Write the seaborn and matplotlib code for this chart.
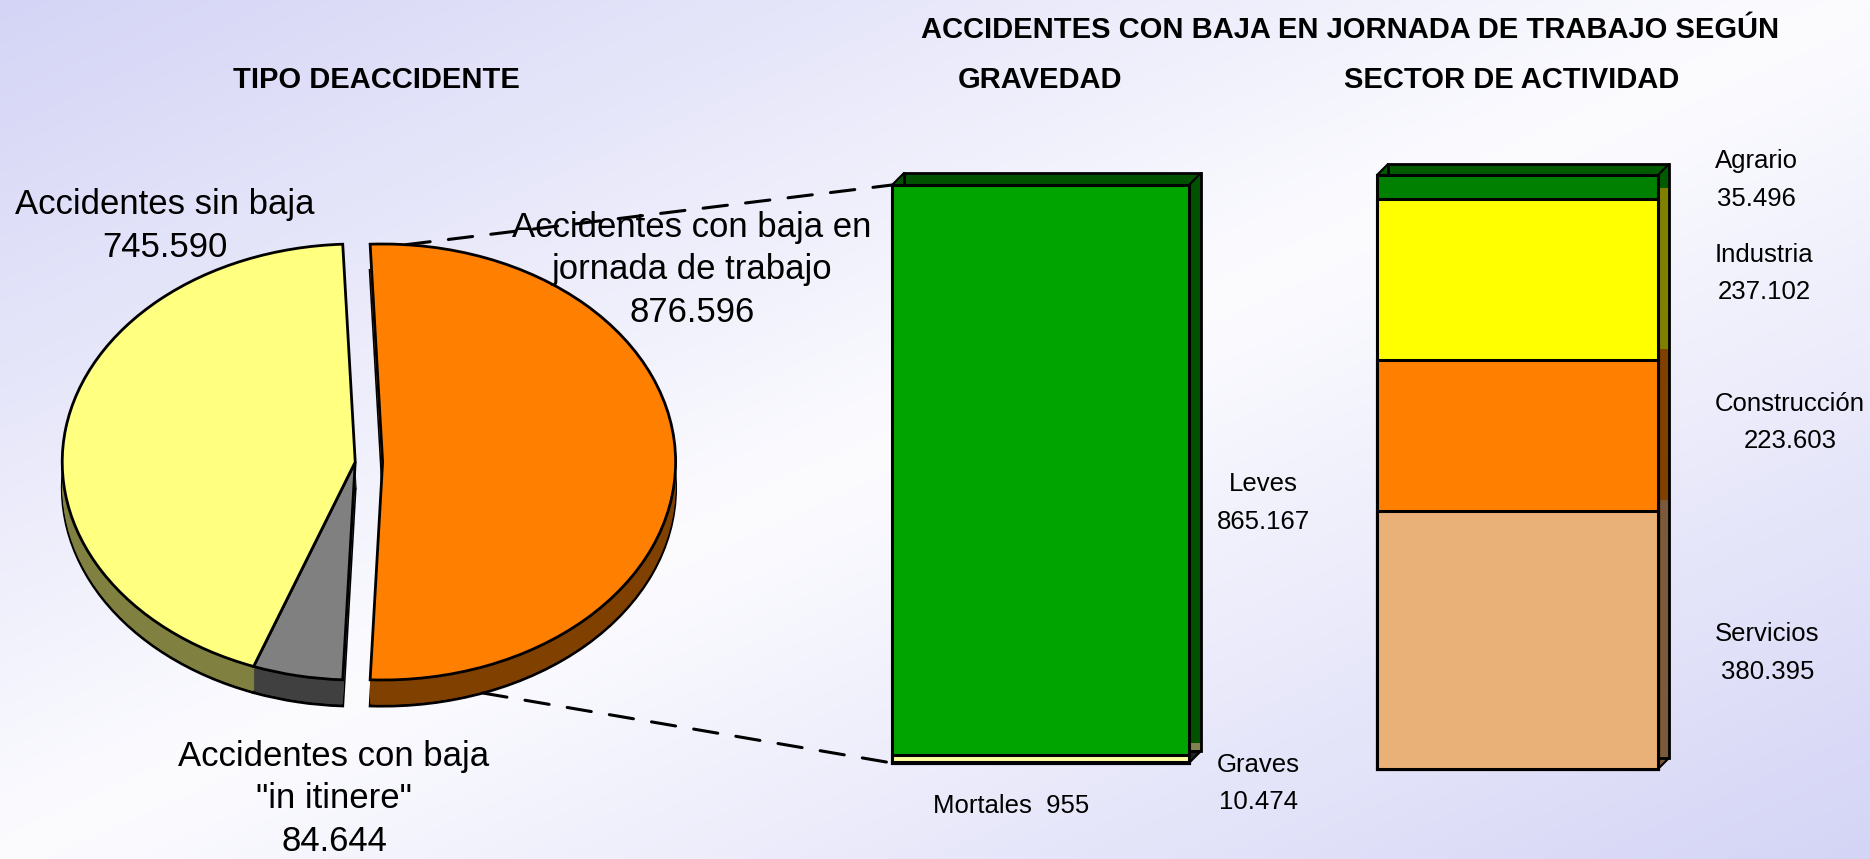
import numpy as np
import pandas as pd
import matplotlib
matplotlib.use("Agg")
import matplotlib.pyplot as plt
import seaborn as sns
from matplotlib.transforms import ScaledTranslation
from matplotlib.patches import Rectangle, ConnectionPatch

# ---------------- data ----------------
tipo_labels = ["Accidentes con baja en\njornada de trabajo",
               "Accidentes con baja\n\"in itinere\"",
               "Accidentes sin baja"]
tipo_values = [876596, 84644, 745590]

grav_labels = ["Mortales", "Graves", "Leves"]          # bottom -> top
grav_values = [955, 10474, 865167]

sector_labels = ["Servicios", "Construcción", "Industria", "Agrario"]  # bottom -> top
sector_values = [380395, 223603, 237102, 35496]

title_main = "ACCIDENTES CON BAJA EN JORNADA DE TRABAJO SEGÚN"
title_pie = "TIPO DEACCIDENTE"
title_grav = "GRAVEDAD"
title_sector = "SECTOR DE ACTIVIDAD"

# ---------------- style ----------------
tipo_colors = ["#FF8000", "#808080", "#FFFF80"]
tipo_sides = ["#804000", "#404040", "#808040"]
grav_colors = ["#303030", "#FFFFA0", "#00A400"]
grav_sides = ["#202020", "#808050", "#005200"]
sector_colors = ["#E9B077", "#FF8000", "#FFFF00", "#008000"]
sector_sides = ["#7A5A3A", "#804000", "#808000", "#005A00"]
sector_label_nudge_px = [13, -13, -6, -7]   # small vertical nudges of labels (bottom -> top)

sns.set_theme(style="white")
plt.rcParams["font.family"] = ["Liberation Sans", "DejaVu Sans"]

W, H = 1870, 859
fig = plt.figure(figsize=(W / 100, H / 100), dpi=100)


def fmt(v):
    return f"{v:,}".replace(",", ".")


def fx(x):
    return x / W


def fy(y):
    return 1 - y / H


# ---------------- background gradient ----------------
bg = fig.add_axes([0, 0, 1, 1], zorder=-10)
gx, gy = np.meshgrid(np.linspace(0, 1, 400), np.linspace(0, 1, 200))
s = np.abs((gx + gy) / 2 - 0.5) * 2
white = np.array([252, 252, 255]) / 255
lav = np.array([212, 212, 246]) / 255
img = white[None, None, :] * (1 - s[..., None]) + lav[None, None, :] * s[..., None]
bg.imshow(img, aspect="auto", extent=[0, 1, 0, 1], origin="upper")
bg.set_axis_off()

# ---------------- pie ----------------
cx, cy, rx, ry = 369, 462, 293, 218
xl = (-1.2, 1.2)
yl = (-1.3, 1.15)
left = cx + xl[0] * rx
right = cx + xl[1] * rx
top = cy - yl[1] * ry
bottom = cy - yl[0] * ry
axp = fig.add_axes([fx(left), fy(bottom), (right - left) / W, (bottom - top) / H])

start = 180 * tipo_values[0] / sum(tipo_values)   # first wedge centred on the right
c0 = -0.047
explode = [0.0935, 0, 0]
depth = 0.12
nlayers = 16
for i in range(nlayers, 0, -1):
    d = depth * i / nlayers
    wl, _ = axp.pie(tipo_values, colors=tipo_sides, startangle=start, counterclock=False,
                    explode=explode, center=(c0, -d),
                    wedgeprops=dict(linewidth=2 if i == nlayers else 0,
                                    edgecolor="black"))
top_wedges, _ = axp.pie(tipo_values, colors=tipo_colors, startangle=start, counterclock=False,
                        explode=explode, center=(c0, 0),
                        wedgeprops=dict(linewidth=2, edgecolor="black"))
axp.set_aspect("auto")
axp.set_xlim(*xl)
axp.set_ylim(*yl)
axp.set_axis_off()

# ---------------- stacked 3D bars ----------------
def stacked_bar(ax, values, colors, sides, off_px):
    cum = np.cumsum(values)
    fronts = []
    for i in range(len(values) - 1, -1, -1):
        df = pd.DataFrame({"cat": ["a"], "v": [cum[i]]})
        n_before = len(ax.patches)
        sns.barplot(data=df, x="cat", y="v", color=colors[i], width=1.0, saturation=1,
                    edgecolor="black", linewidth=2.2, errorbar=None, ax=ax)
        p = ax.patches[n_before]
        p.set_zorder(3)
        p.set_clip_on(False)
        fronts.append((p, sides[i]))
    # extrusion
    for p, side in fronts:
        x0, y0 = p.get_xy()
        w, h = p.get_width(), p.get_height()
        for k in range(1, off_px + 1):
            tr = ax.transData + ScaledTranslation(k / 100, k / 100, fig.dpi_scale_trans)
            r = Rectangle((x0, y0), w, h, transform=tr, facecolor=side,
                          edgecolor="none", zorder=1, clip_on=False)
            ax.add_artist(r)
    p, _ = fronts[0]
    x0, y0 = p.get_xy()
    w, h = p.get_width(), p.get_height()
    tr = ax.transData + ScaledTranslation(off_px / 100, off_px / 100, fig.dpi_scale_trans)
    ax.add_artist(Rectangle((x0, y0), w, h, transform=tr, facecolor="none",
                            edgecolor="black", linewidth=2, zorder=2, clip_on=False))
    for (px, py) in [(x0, y0 + h), (x0 + w, y0 + h), (x0 + w, y0)]:
        ax.annotate("", xy=(px, py), xytext=(off_px * 0.72, off_px * 0.72),
                    textcoords="offset points", annotation_clip=False,
                    arrowprops=dict(arrowstyle="-", color="black", lw=1.5,
                                    shrinkA=0, shrinkB=0), zorder=2)
    ax.set_xlim(-0.5, 0.5)
    ax.set_ylim(0, cum[-1])
    ax.set_axis_off()
    return cum


# Gravedad bar
gl, gr, gt, gb = 892, 1189, 185, 763
axg = fig.add_axes([fx(gl), fy(gb), (gr - gl) / W, (gb - gt) / H])
gcum = stacked_bar(axg, grav_values, grav_colors, grav_sides, 12)

# Sector bar
sl, sr, st, sb = 1377, 1658, 175, 769
axs = fig.add_axes([fx(sl), fy(sb), (sr - sl) / W, (sb - st) / H])
scum = stacked_bar(axs, sector_values, sector_colors, sector_sides, 11)

# ---------------- connector dashed lines ----------------
ow = top_wedges[0]
ocx, ocy = ow.center
ang_top = np.deg2rad(ow.theta2 - 7)
ang_bot = np.deg2rad(-70)
pA1 = (ocx + np.cos(ang_top), ocy + np.sin(ang_top))
pA2 = (ocx + np.cos(ang_bot), ocy + np.sin(ang_bot) - depth)
for pa, pb in [(pA1, (-0.5, gcum[-1])), (pA2, (-0.5, 0))]:
    con = ConnectionPatch(xyA=pa, coordsA=axp.transData, xyB=pb, coordsB=axg.transData,
                          color="black", lw=2.2, linestyle=(0, (8, 6)), zorder=5)
    fig.add_artist(con)

# ---------------- texts ----------------
tkw = dict(ha="center", va="center", color="black", fontsize=21, fontweight="bold")
fig.text(fx(376), fy(80), title_pie, **tkw)
fig.text(fx(1350), fy(30), title_main, **tkw)
fig.text(fx(1040), fy(80), title_grav, **tkw)
fig.text(fx(1512), fy(80), title_sector, **tkw)

pkw = dict(ha="center", va="center", multialignment="center", color="black",
           fontsize=25, linespacing=1.35)
fig.text(fx(165), fy(226), f"{tipo_labels[2]}\n{fmt(tipo_values[2])}", **pkw)
fig.text(fx(692), fy(270), f"{tipo_labels[0]}\n{fmt(tipo_values[0])}", zorder=6, **pkw)
fig.text(fx(334), fy(799), f"{tipo_labels[1]}\n{fmt(tipo_values[1])}", **pkw)

bkw = dict(va="center", multialignment="center", color="black", fontsize=18.5,
           linespacing=1.7)
axg.text(1.094, 0.45, f"{grav_labels[2]}\n{fmt(grav_values[2])}", transform=axg.transAxes,
         ha="left", **bkw)
axg.text(1.094, -0.035, f"{grav_labels[1]}\n{fmt(grav_values[1])}", transform=axg.transAxes,
         ha="left", **bkw)
axg.text(0.138, -0.074, f"{grav_labels[0]}  {fmt(grav_values[0])}", transform=axg.transAxes,
         ha="left", **bkw)

mids = scum - np.array(sector_values) / 2
for lab, v, m, nd in zip(sector_labels, sector_values, mids, sector_label_nudge_px):
    tr = axs.get_yaxis_transform() + ScaledTranslation(0, -nd / 100, fig.dpi_scale_trans)
    axs.text(1.203, m, f"{lab}\n{fmt(v)}", transform=tr, ha="left", **bkw)

fig.savefig("out.png", dpi=100)
